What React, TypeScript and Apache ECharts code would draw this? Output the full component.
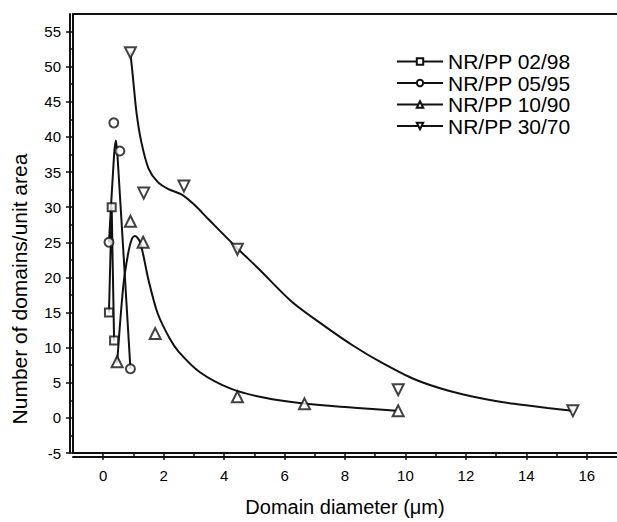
import React, { useEffect, useRef } from "react";
import * as echarts from "echarts";

// Marker data (Domain diameter µm, number of domains/unit area)
const nr02X = [0.19, 0.28, 0.36];
const nr02Y = [15, 30, 11];
const nr05X = [0.19, 0.35, 0.55, 0.9];
const nr05Y = [25, 42, 38, 7];
const nr10X = [0.46, 0.9, 1.32, 1.72, 4.44, 6.66, 9.76];
const nr10Y = [8, 28, 25, 12, 3, 2, 1];
const nr30X = [0.9, 1.34, 2.67, 4.44, 9.76, 15.54];
const nr30Y = [52, 32, 33, 24, 4, 1];

// Fitted curves
const fit02X = [0.19, 0.28, 0.36];
const fit02Y = [15, 30, 11];
const fit05X = [0.19, 0.36, 0.42, 0.47, 0.9];
const fit05Y = [25, 37.5, 39.5, 37.5, 7];
const fit10X = [0.46, 0.66, 0.82, 0.95, 1.05, 1.2, 1.32, 1.5, 1.8, 2.2, 2.5, 3.2, 4.2, 5.3, 6.7, 8.3, 9.7];
const fit10Y = [7.8, 18.6, 23.3, 25.5, 25.9, 25.2, 23.3, 19.6, 14.9, 11.3, 9.4, 6.5, 4.2, 2.9, 2.0, 1.45, 1.0];
const fit30X = [0.9, 0.99, 1.1, 1.26, 1.5, 1.8, 2.14, 2.6, 3.0, 3.5, 4.4, 5.15, 6.25, 7.35, 8.3, 9.2, 10.3, 11.4, 12.5, 13.6, 14.7, 15.54];
const fit30Y = [52, 48.2, 43.5, 39.3, 35.5, 33.6, 32.6, 31.8, 30.4, 28.2, 24.3, 21.2, 16.5, 13.0, 10.2, 7.9, 5.5, 3.9, 2.8, 2.0, 1.4, 1.0];

const seriesNames = ["NR/PP 02/98", "NR/PP 05/95", "NR/PP 10/90", "NR/PP 30/70"];
const xMajorTicks = [0, 2, 4, 6, 8, 10, 12, 14, 16];
const yMajorTicks = [-5, 0, 5, 10, 15, 20, 25, 30, 35, 40, 45, 50, 55];

const zip = (xs: number[], ys: number[]) => xs.map((x, i) => [x, ys[i]]);

const FONT = '"Liberation Sans", Arial, sans-serif';
const INK = "#111";
const W = 617;
const H = 522;
const GRID = { left: 73, right: -3, top: 14, bottom: 65 };

export default function App() {
  const ref = useRef<HTMLDivElement>(null);
  useEffect(() => {
    if (!ref.current) return;
    const chart = echarts.init(ref.current, null, { renderer: "svg" });
    const groups = [
      { name: seriesNames[0], fit: zip(fit02X, fit02Y), pts: zip(nr02X, nr02Y), symbol: "emptyRect", size: 8, rot: 0, smooth: false },
      { name: seriesNames[1], fit: zip(fit05X, fit05Y), pts: zip(nr05X, nr05Y), symbol: "emptyCircle", size: 9, rot: 0, smooth: 0.2 },
      { name: seriesNames[2], fit: zip(fit10X, fit10Y), pts: zip(nr10X, nr10Y), symbol: "emptyTriangle", size: 11, rot: 0, smooth: 0.3 },
      { name: seriesNames[3], fit: zip(fit30X, fit30Y), pts: zip(nr30X, nr30Y), symbol: "emptyTriangle", size: 11, rot: 180, smooth: 0.3 },
    ];
    const series: any[] = [];
    groups.forEach((g) => {
      series.push({
        type: "line",
        name: g.name,
        data: g.fit,
        smooth: g.smooth,
        showSymbol: false,
        symbol: g.symbol,
        symbolRotate: g.rot,
        lineStyle: { color: INK, width: 2 },
        itemStyle: { color: INK, borderWidth: 1.2 },
        z: 2,
      });
    });
    groups.forEach((g) => {
      series.push({
        type: "scatter",
        name: g.name,
        data: g.pts,
        symbol: g.symbol,
        symbolSize: g.size,
        symbolRotate: g.rot,
        itemStyle: { color: INK, borderWidth: 1.2 },
        z: 3,
      });
    });
    const gridW = W - GRID.left - GRID.right;
    const gridH = H - GRID.top - GRID.bottom;
    const frameLine = { show: true, onZero: false, lineStyle: { color: INK, width: 2 } };
    chart.setOption({
      animation: false,
      grid: GRID,
      legend: {
        orient: "vertical",
        left: 391,
        top: 46,
        itemWidth: 46,
        itemHeight: 8,
        itemGap: 0.5,
        data: seriesNames,
        selectedMode: false,
        textStyle: { fontFamily: FONT, fontSize: 21, color: "#000" },
      },
      xAxis: [
        {
          type: "value",
          min: -1,
          max: 17,
          splitNumber: 9,
          position: "bottom",
          name: "Domain diameter (\u03bcm)",
          nameLocation: "middle",
          nameGap: 44,
          nameTextStyle: { fontFamily: FONT, fontSize: 20, color: "#000" },
          axisLine: frameLine,
          axisTick: { show: true, length: 7, customValues: xMajorTicks, lineStyle: { color: INK, width: 1.5 } },
          minorTick: { show: true, splitNumber: 2, length: 4, lineStyle: { color: INK, width: 1.5 } },
          axisLabel: { show: true, customValues: xMajorTicks, margin: 15, fontFamily: FONT, fontSize: 15, color: "#000" },
          splitLine: { show: false },
          minorSplitLine: { show: false },
        },
        {
          type: "value",
          min: -1,
          max: 17,
          position: "top",
          axisLine: frameLine,
          axisTick: { show: false },
          axisLabel: { show: false },
          splitLine: { show: false },
        },
        {
          type: "value",
          min: -1,
          max: 17,
          position: "top",
          offset: -gridH,
          axisLine: frameLine,
          axisTick: { show: false },
          axisLabel: { show: false },
          splitLine: { show: false },
        },
      ],
      yAxis: [
        {
          type: "value",
          min: -5,
          max: 57.5,
          interval: 5,
          position: "left",
          axisLine: frameLine,
          axisTick: { show: true, length: 7, customValues: yMajorTicks, lineStyle: { color: INK, width: 1.5 } },
          minorTick: { show: true, splitNumber: 2, length: 4, lineStyle: { color: INK, width: 1.5 } },
          axisLabel: { show: true, customValues: yMajorTicks, margin: 12, fontFamily: FONT, fontSize: 15, color: "#000" },
          splitLine: { show: false },
          minorSplitLine: { show: false },
        },
        {
          type: "value",
          min: -5,
          max: 57.5,
          position: "right",
          offset: -gridW,
          axisLine: frameLine,
          axisTick: { show: false },
          axisLabel: { show: false },
          splitLine: { show: false },
        },
      ],
      graphic: [
        {
          type: "text",
          x: 19,
          y: 289,
          rotation: Math.PI / 2,
          style: {
            text: "Number of domains/unit area",
            fontFamily: FONT,
            fontSize: 21,
            fill: "#000",
            align: "center",
            verticalAlign: "middle",
          },
        },
      ],
      series,
    });
    return () => chart.dispose();
  }, []);
  return <div ref={ref} style={{ position: "absolute", left: 0, top: 0, width: W, height: H, background: "#fff" }} />;
}
